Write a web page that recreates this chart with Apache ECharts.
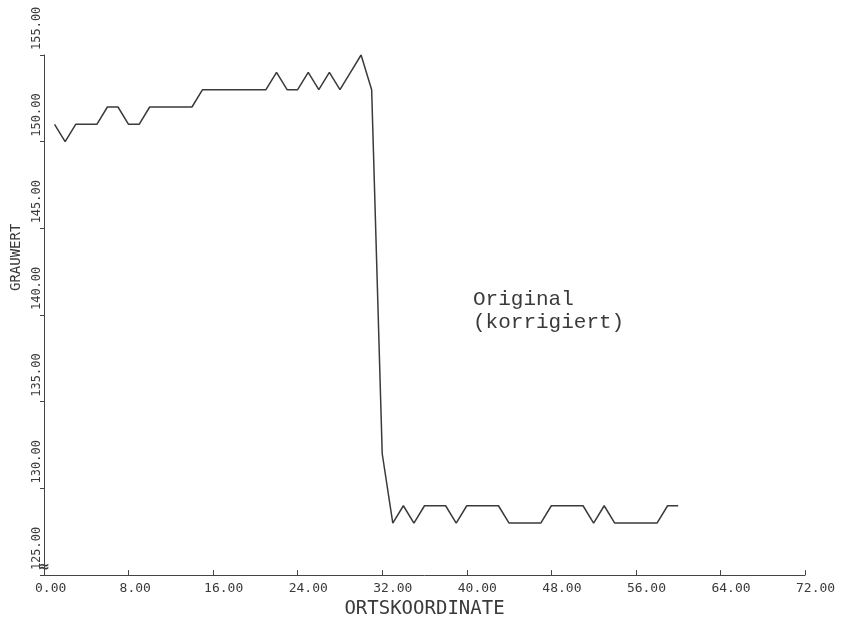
<!DOCTYPE html>
<html>
<head>
<meta charset="utf-8">
<script src="https://cdn.jsdelivr.net/npm/echarts@6/dist/echarts.min.js"></script>
<style>
html,body{margin:0;padding:0;background:#fff;}
#chart{width:847px;height:624px;}
</style>
</head>
<body>
<div id="chart"></div>
<script>
// Ortskoordinate (position index)
const positions = [1,2,3,4,5,6,7,8,9,10,11,12,13,14,15,16,17,18,19,20,
  21,22,23,24,25,26,27,28,29,30,31,32,33,34,35,36,37,38,39,40,
  41,42,43,44,45,46,47,48,49,50,51,52,53,54,55,56,57,58,59,60];
// Grauwert (gray value) at each position
const grayValues = [151,150,151,151,151,152,152,151,151,152,152,152,152,152,153,153,153,153,153,153,
  153,154,153,153,154,153,154,153,154,155,153,132,128,129,128,129,129,129,128,129,
  129,129,129,128,128,128,128,129,129,129,129,128,129,128,128,128,128,128,129,129];

const xAxisName = 'ORTSKOORDINATE';
const yAxisName = 'GRAUWERT';
const annotationLines = ['Original', '(korrigiert)'];
const xRange = [0, 72, 8];
const yRange = [125, 155, 5];

const chart = echarts.init(document.getElementById('chart'), null, {renderer: 'canvas'});
const mono = '"DejaVu Sans Mono", monospace';
const ink = '#3a3a3a';

chart.setOption({
  animation: false,
  backgroundColor: '#ffffff',
  grid: {left: 44, right: 42, top: 55, bottom: 46, containLabel: false},
  xAxis: {
    type: 'value',
    min: xRange[0], max: xRange[1], interval: xRange[2],
    name: xAxisName,
    nameLocation: 'middle',
    nameGap: 20,
    nameTextStyle: {fontFamily: mono, fontSize: 19, color: ink},
    axisLine: {show: true, onZero: false, lineStyle: {color: '#444', width: 1}},
    axisTick: {show: true, inside: true, length: 5, lineStyle: {color: '#444'}},
    splitLine: {show: false},
    axisLabel: {
      fontFamily: mono, fontSize: 13, color: ink, margin: 7,
      align: 'left', padding: [0, 0, 0, -9],
      formatter: v => v.toFixed(2)
    }
  },
  yAxis: {
    type: 'value',
    min: yRange[0], max: yRange[1], interval: yRange[2],
    name: yAxisName,
    nameLocation: 'middle',
    nameRotate: 90,
    nameGap: 16,
    nameTextStyle: {fontFamily: mono, fontSize: 14, color: ink, align: 'left', padding: [0, 0, 0, 24]},
    axisLine: {show: true, onZero: false, lineStyle: {color: '#444', width: 1}},
    axisTick: {show: true, inside: false, length: 4, lineStyle: {color: '#444'}},
    splitLine: {show: false},
    axisLabel: {
      fontFamily: mono, fontSize: 12, color: ink, margin: 1,
      rotate: 90, align: 'left', padding: [0, 0, 0, 5],
      formatter: v => v.toFixed(2)
    }
  },
  graphic: [
    {
      type: 'text', left: 473, top: 288,
      style: {
        text: annotationLines.join('\n'),
        font: '21px "Liberation Mono", monospace',
        fill: ink, lineHeight: 23
      }
    },
    {
      type: 'text', x: 44, y: 567,
      style: {text: '\u2248', font: 'bold 14px "DejaVu Sans"', fill: ink,
        align: 'center', verticalAlign: 'middle'}
    }
  ],
  series: [{
    type: 'line',
    data: positions.map((p, i) => [p, grayValues[i]]),
    showSymbol: false,
    lineStyle: {color: ink, width: 1.5},
    z: 3
  }]
});
</script>
</body>
</html>
